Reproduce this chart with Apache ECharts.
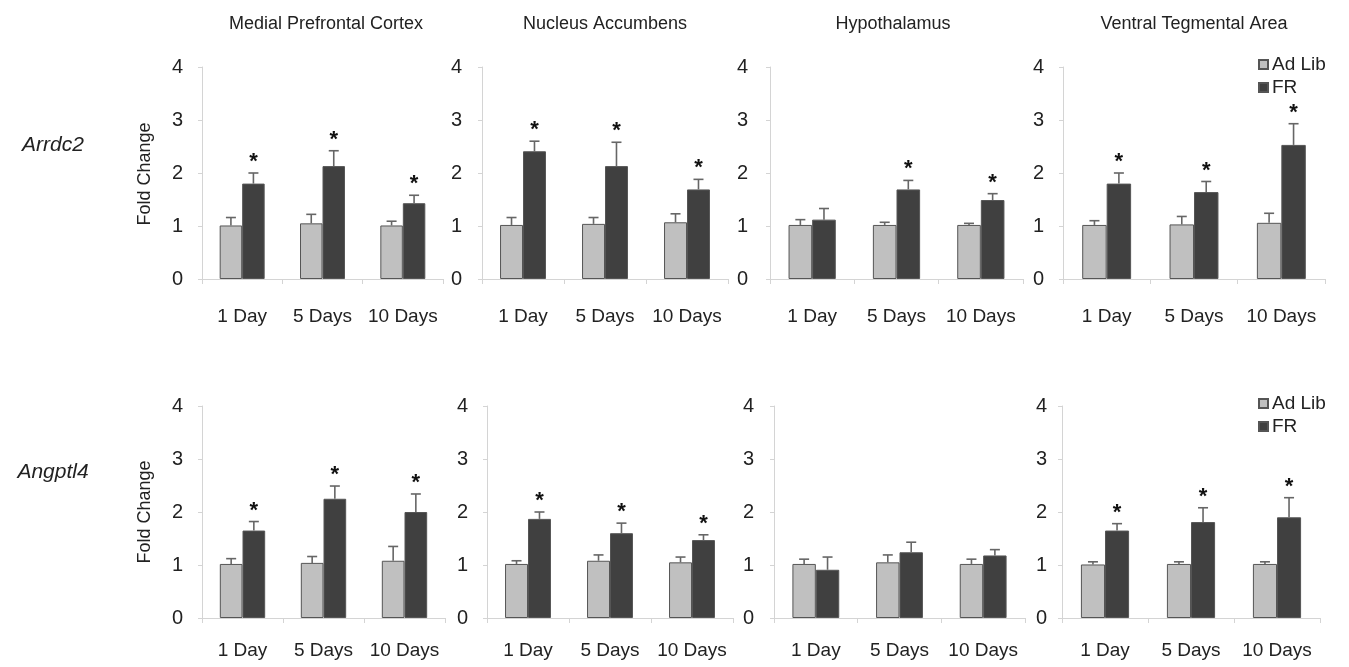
<!DOCTYPE html>
<html>
<head>
<meta charset="utf-8">
<script src="https://cdn.jsdelivr.net/npm/echarts@6/dist/echarts.min.js"></script>
<style>
html,body{margin:0;padding:0;background:#fff;}
#chart{width:1349px;height:667px;}
</style>
</head>
<body>
<div id="chart"></div>
<script>
// ---------- DATA ----------
const categories = ['1 Day', '5 Days', '10 Days'];
const regions = ['Medial Prefrontal Cortex', 'Nucleus Accumbens', 'Hypothalamus', 'Ventral Tegmental Area'];
const genes = ['Arrdc2', 'Angptl4'];
const seriesNames = ['Ad Lib', 'FR'];
const yTicks = [0, 1, 2, 3, 4];

// per region: [1 Day, 5 Days, 10 Days]
const arrdc2AdLib    = [[1.01, 1.05, 1.01], [1.02, 1.04, 1.07], [1.02, 1.02, 1.02], [1.02, 1.03, 1.06]];
const arrdc2AdLibErr = [[0.15, 0.17, 0.08], [0.14, 0.12, 0.16], [0.10, 0.05, 0.03], [0.08, 0.15, 0.18]];
const arrdc2FR       = [[1.80, 2.13, 1.43], [2.41, 2.13, 1.69], [1.12, 1.69, 1.49], [1.80, 1.64, 2.53]];
const arrdc2FRErr    = [[0.20, 0.29, 0.15], [0.19, 0.45, 0.19], [0.21, 0.17, 0.12], [0.20, 0.20, 0.40]];
const arrdc2Sig      = [[1, 1, 1], [1, 1, 1], [0, 1, 1], [1, 1, 1]];

const angptl4AdLib    = [[1.02, 1.04, 1.08], [1.02, 1.08, 1.05], [1.02, 1.05, 1.02], [1.01, 1.02, 1.02]];
const angptl4AdLibErr = [[0.10, 0.12, 0.27], [0.06, 0.11, 0.10], [0.09, 0.14, 0.09], [0.05, 0.04, 0.04]];
const angptl4FR       = [[1.65, 2.25, 2.00], [1.87, 1.60, 1.47], [0.91, 1.24, 1.18], [1.65, 1.81, 1.90]];
const angptl4FRErr    = [[0.17, 0.24, 0.34], [0.13, 0.19, 0.10], [0.24, 0.19, 0.11], [0.13, 0.27, 0.37]];
const angptl4Sig      = [[1, 1, 1], [1, 1, 1], [0, 0, 0], [1, 1, 1]];

// ---------- LAYOUT ----------
const FONT = '"Liberation Sans", Arial, sans-serif';
const rowsLayout = [
  { top: 67, height: 212, labelMargin: 28, grids: [[202, 241], [482, 246], [770, 253], [1063, 262]], yMargin: [19, 20, 22, 19] },
  { top: 406, height: 212, labelMargin: 23, grids: [[202, 243], [487, 246], [774, 251], [1062, 258]], yMargin: [19, 19, 20, 15] }
];
const BAR_FRAC = 0.28;
const colAdLib = '#c0c0c0', colFR = '#404040', colBorder = '#555555', colAxis = '#d4d4d4', colText = '#222222';

const geneData = [
  { al: arrdc2AdLib, alE: arrdc2AdLibErr, fr: arrdc2FR, frE: arrdc2FRErr, sig: arrdc2Sig },
  { al: angptl4AdLib, alE: angptl4AdLibErr, fr: angptl4FR, frE: angptl4FRErr, sig: angptl4Sig }
];

function errRender(side) {
  return function (params, api) {
    const idx = api.value(0), v = api.value(1), e = api.value(2), s = api.value(3);
    const base = api.coord([idx, v]);
    const top = api.coord([idx, v + e]);
    const bw = api.size([1, 0])[0] * BAR_FRAC;
    const cx = base[0] + side * bw / 2;
    const children = [
      { type: 'line', shape: { x1: cx, y1: base[1], x2: cx, y2: top[1] }, style: { stroke: '#666', lineWidth: 1.6 } },
      { type: 'line', shape: { x1: cx - 5, y1: top[1], x2: cx + 5, y2: top[1] }, style: { stroke: '#666', lineWidth: 1.6 } }
    ];
    if (s) {
      children.push({ type: 'text', style: { text: '*', x: cx, y: top[1] - 11, align: 'center', verticalAlign: 'middle', font: 'bold 22px ' + FONT, fill: '#111' } });
    }
    return { type: 'group', children: children };
  };
}

const grid = [], xAxis = [], yAxis = [], series = [], graphic = [];
let gi = 0;
for (let r = 0; r < 2; r++) {
  const L = rowsLayout[r];
  const d = geneData[r];
  for (let c = 0; c < 4; c++) {
    const [left, width] = L.grids[c];
    grid.push({ left: left, top: L.top, width: width, height: L.height });
    xAxis.push({
      type: 'category', gridIndex: gi, data: categories,
      axisLine: { lineStyle: { color: colAxis, width: 1 } },
      axisTick: { show: true, length: 5, lineStyle: { color: colAxis } },
      axisLabel: { color: colText, fontSize: 19, fontFamily: FONT, margin: L.labelMargin, interval: 0, hideOverlap: false }
    });
    yAxis.push({
      type: 'value', gridIndex: gi, min: 0, max: 4, interval: 1,
      axisLine: { show: true, lineStyle: { color: colAxis, width: 1 } },
      axisTick: { show: true, length: 4, lineStyle: { color: colAxis } },
      splitLine: { show: false },
      axisLabel: { color: colText, fontSize: 20, fontFamily: FONT, margin: L.yMargin[c],
        formatter: function (v) { return yTicks.indexOf(v) >= 0 ? String(v) : ''; } }
    });
    series.push({
      type: 'bar', name: seriesNames[0], xAxisIndex: gi, yAxisIndex: gi,
      data: d.al[c], barWidth: (BAR_FRAC * 100) + '%', barGap: '0%',
      itemStyle: { color: colAdLib, borderColor: colBorder, borderWidth: 1 }
    });
    series.push({
      type: 'bar', name: seriesNames[1], xAxisIndex: gi, yAxisIndex: gi,
      data: d.fr[c], barWidth: (BAR_FRAC * 100) + '%', barGap: '0%',
      itemStyle: { color: colFR, borderColor: colBorder, borderWidth: 1 }
    });
    series.push({
      type: 'custom', xAxisIndex: gi, yAxisIndex: gi, renderItem: errRender(-1), z: 3,
      encode: { x: 0, y: 1 },
      data: categories.map((_, i) => [i, d.al[c][i], d.alE[c][i], 0])
    });
    series.push({
      type: 'custom', xAxisIndex: gi, yAxisIndex: gi, renderItem: errRender(1), z: 3,
      encode: { x: 0, y: 1 },
      data: categories.map((_, i) => [i, d.fr[c][i], d.frE[c][i], d.sig[c][i]])
    });
    gi++;
  }
}

// Panel titles
const titleCenters = [326, 605, 893, 1194];
regions.forEach((t, i) => {
  graphic.push({ type: 'text', x: titleCenters[i], y: 24, style: { text: t, align: 'center', verticalAlign: 'middle', font: '18px ' + FONT, fill: colText } });
});
// Row labels (gene names) and y-axis names
const rowLabelY = [145, 472];
const foldY = [174, 512];
genes.forEach((g, r) => {
  graphic.push({ type: 'text', x: 53, y: rowLabelY[r], style: { text: g, align: 'center', verticalAlign: 'middle', font: 'italic 21px ' + FONT, fill: colText } });
  graphic.push({ type: 'text', x: 145, y: foldY[r], rotation: Math.PI / 2, style: { text: 'Fold Change', align: 'center', verticalAlign: 'middle', font: '18px ' + FONT, fill: colText } });
});

const legendBase = { orient: 'vertical', data: seriesNames, icon: 'rect', itemWidth: 9, itemHeight: 9, itemGap: 4, left: 1253,
  textStyle: { color: colText, fontSize: 19, fontFamily: FONT, padding: [0, 0, 0, -1] } };

const option = {
  animation: false,
  backgroundColor: '#ffffff',
  grid: grid, xAxis: xAxis, yAxis: yAxis, series: series,
  legend: [Object.assign({}, legendBase, { top: 50 }), Object.assign({}, legendBase, { top: 389 })],
  graphic: graphic
};

const chart = echarts.init(document.getElementById('chart'), null, { renderer: 'canvas' });
chart.setOption(option);
</script>
</body>
</html>
